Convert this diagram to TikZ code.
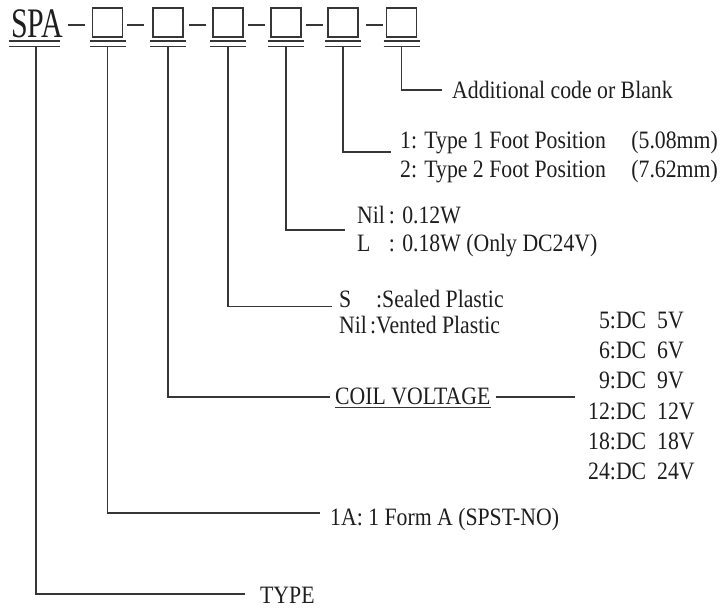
\documentclass[tikz,border=0pt]{standalone}
\usepackage{fontspec}
\setmainfont{Liberation Serif}[FakeStretch=0.87]
\definecolor{ink}{HTML}{1E1E1E}
\definecolor{inkl}{HTML}{363636}
\begin{document}
\begin{tikzpicture}[x=1pt,y=-1pt,
  ln/.style={line width=1.5pt, draw=inkl},
  dashln/.style={line width=1.3pt, draw=inkl},
  txt/.style={anchor=base west, inner sep=0pt, text=ink, font=\fontsize{25}{26}\selectfont},
  codebox/.style={draw=inkl, line width=1.5pt, minimum width=30pt, minimum height=29pt, inner sep=0pt},
]
\useasboundingbox (0,0) rectangle (720,608);
\coordinate (bar) at (0,46.5);
% header
\node[anchor=base west, inner sep=0pt, text=ink] (spa) at (11,37) {\scalebox{0.82}[1]{\fontsize{42}{42}\selectfont SPA}};
\draw[ln] (9,41) -- (60,41) (9,46.5) -- (60,46.5);
\coordinate (s0) at (36,46.5);
\foreach \n/\x in {b1/107.5,b2/168,b3/228,b4/286,b5/343,b6/401.5} {
  \node[codebox] (\n) at (\x,22.5) {};
  \draw[ln] (\x-18,41) -- (\x+18,41) (\x-18,46.5) -- (\x+18,46.5);
}
\foreach \x in {76,135.5,197.5,256.5,314.5,374.5} {
  \draw[dashln] (\x-8.5,25) -- (\x+8.5,25);
}
% texts
\node[txt] (t6) at (452,98.5) {Additional code or Blank};
\node[txt] (t5a) at (400,148) {1: Type 1 Foot Position};
\node[txt] (t5b) at (400,177.5) {2: Type 2 Foot Position};
\node[txt, anchor=base east] (t5c) at (718,148) {(5.08mm)};
\node[txt, anchor=base east] (t5d) at (718,177.5) {(7.62mm)};
\node[txt, font=\fontsize{25}{28.5}\selectfont] (t4) at (357,223) {\begin{tabular}[t]{@{}l@{\hspace{4pt}}l@{}}Nil & : 0.12W\\ L & : 0.18W (Only DC24V)\end{tabular}};
\node[txt, font=\fontsize{25}{26}\selectfont] (t3) at (339,307) {\begin{tabular}[t]{@{}l@{}}\makebox[37pt][l]{S}:Sealed Plastic\\ \makebox[31pt][l]{Nil}:Vented Plastic\end{tabular}};
\node[txt] (t2) at (335,404) {COIL VOLTAGE};
\draw[line width=1pt, draw=inkl] ([yshift=-3pt]t2.base west) -- ([yshift=-3pt]t2.base east);
\node[txt, font=\fontsize{25}{30.3}\selectfont] (vl) at (588,328.3) {\begin{tabular}[t]{@{}r@{:}l@{\hspace{11pt}}l@{}}5&DC&5V\\6&DC&6V\\9&DC&9V\\12&DC&12V\\18&DC&18V\\24&DC&24V\end{tabular}};
\node[txt] (t1) at (330,525) {1A: 1 Form A (SPST-NO)};
\node[txt] (t0) at (260,603) {TYPE};
% connector ends
\coordinate (e6) at (442,90);
\coordinate (e5) at (391,152);
\coordinate (e4) at (345,230);
\coordinate (e3) at (332,306.7);
\coordinate (e2) at (330,397);
\coordinate (e1) at (320,513);
\coordinate (e0) at (245,594);
% connectors
\draw[ln] (b6 |- bar) |- (e6);
\draw[ln] (b5 |- bar) |- (e5);
\draw[ln] (b4 |- bar) |- (e4);
\draw[ln] (b3 |- bar) |- (e3);
\draw[ln] (b2 |- bar) |- (e2);
\draw[ln] (b1 |- bar) |- (e1);
\draw[ln] (s0) |- (e0);
\draw[ln] ([xshift=5pt]t2.base east |- e2) -- ([xshift=-13pt]vl.base west |- e2);
\end{tikzpicture}
\end{document}
